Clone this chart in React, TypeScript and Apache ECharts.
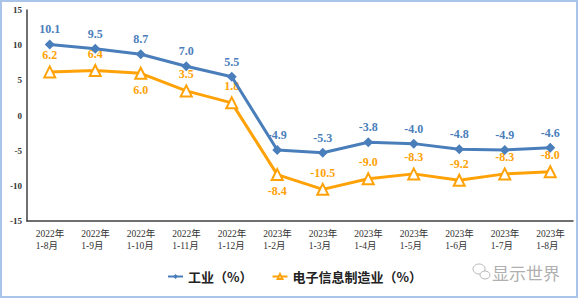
import React, { useEffect, useRef } from "react";
import * as echarts from "echarts";

const years = ["2022年", "2022年", "2022年", "2022年", "2022年", "2023年", "2023年", "2023年", "2023年", "2023年", "2023年", "2023年"];
const periods = ["1-8月", "1-9月", "1-10月", "1-11月", "1-12月", "1-2月", "1-3月", "1-4月", "1-5月", "1-6月", "1-7月", "1-8月"];
const industry = [10.1, 9.5, 8.7, 7.0, 5.5, -4.9, -5.3, -3.8, -4.0, -4.8, -4.9, -4.6];
const electronics = [6.2, 6.4, 6.0, 3.5, 1.8, -8.4, -10.5, -9.0, -8.3, -9.2, -8.3, -8.0];
const electronicsBelow = [2, 5];
const seriesNames = ["工业（%）", "电子信息制造业（%）"];
const watermark = "显示世界";

const BLUE = "#4a7ebb";
const ORANGE = "#ffa208";
const SERIF = "'Liberation Serif', 'Times New Roman', 'Noto Sans CJK SC', serif";
const CJK = "'Noto Sans CJK SC', sans-serif";

export default function App() {
  const ref = useRef<HTMLDivElement>(null);
  useEffect(() => {
    if (!ref.current) return;
    const chart = echarts.init(ref.current, null, { renderer: "svg" });
    const categories = years.map((y, i) => `${y}\n${periods[i]}`);
    chart.setOption({
      animation: false,
      backgroundColor: "#ffffff",
      grid: { left: 27, right: 6, top: 10, bottom: 78, containLabel: false },
      legend: {
        left: 162,
        top: 265,
        itemWidth: 15,
        itemHeight: 6,
        itemGap: 19,
        textStyle: { fontFamily: CJK, fontSize: 13, fontWeight: "bold", color: "#222" },
        data: seriesNames,
      },
      xAxis: {
        type: "category",
        data: categories,
        boundaryGap: true,
        axisLine: { onZero: false, lineStyle: { color: "#404040", width: 1.5 } },
        axisTick: { show: false },
        axisLabel: {
          interval: 0,
          margin: 7,
          formatter: (v: string) => {
            const [a, b] = v.split("\n");
            return `{t|${a}}\n{t|${b}}`;
          },
          rich: {
            t: { width: 28, align: "left", fontFamily: SERIF, fontSize: 9.5, color: "#333", lineHeight: 12 },
          },
        },
      },
      yAxis: {
        type: "value",
        min: -15,
        max: 15,
        interval: 5,
        splitLine: { show: false },
        axisLine: { show: true, lineStyle: { color: "#404040", width: 1.5 } },
        axisTick: { show: false },
        axisLabel: { fontFamily: SERIF, fontSize: 9, fontWeight: "bold", color: "#333", margin: 5 },
      },
      series: [
        {
          name: seriesNames[0],
          type: "line",
          data: industry,
          symbol: "diamond",
          symbolSize: 10,
          lineStyle: { color: BLUE, width: 3 },
          itemStyle: { color: BLUE },
          label: {
            show: true,
            position: "top",
            distance: 4,
            formatter: (p: any) => Number(p.value).toFixed(1),
            fontFamily: SERIF,
            fontSize: 12,
            fontWeight: "bold",
            color: BLUE,
          },
          z: 3,
        },
        {
          name: seriesNames[1],
          type: "line",
          data: electronics.map((v, i) => ({
            value: v,
            label: { position: electronicsBelow.includes(i) ? "bottom" : "top" },
          })),
          symbol: "triangle",
          symbolSize: 11,
          lineStyle: { color: ORANGE, width: 3 },
          itemStyle: { color: "#ffffff", borderColor: ORANGE, borderWidth: 2 },
          label: {
            show: true,
            position: "top",
            distance: 4,
            formatter: (p: any) => Number(p.value).toFixed(1),
            fontFamily: SERIF,
            fontSize: 12,
            fontWeight: "bold",
            color: ORANGE,
          },
          z: 2,
        },
      ],
      graphic: [
        {
          type: "rect",
          shape: { x: 1, y: 1, width: 576, height: 296 },
          style: { fill: "none", stroke: "#a9c4e8", lineWidth: 2 },
          silent: true,
        },
        {
          type: "ellipse",
          shape: { cx: 479, cy: 269, rx: 6, ry: 5 },
          style: { fill: "#fff", stroke: "#b8b8b8", lineWidth: 1 },
        },
        {
          type: "ellipse",
          shape: { cx: 485, cy: 275, rx: 5, ry: 4 },
          style: { fill: "#fff", stroke: "#b8b8b8", lineWidth: 1 },
        },
        {
          type: "text",
          x: 492,
          y: 272,
          style: {
            text: watermark,
            fontFamily: CJK,
            fontSize: 17,
            fill: "#b0b0b0",
            verticalAlign: "middle",
          },
        },
      ],
    });
    return () => chart.dispose();
  }, []);
  return (
    <div
      ref={ref}
      style={{ position: "fixed", left: 0, top: 0, width: 579, height: 299 }}
    />
  );
}
